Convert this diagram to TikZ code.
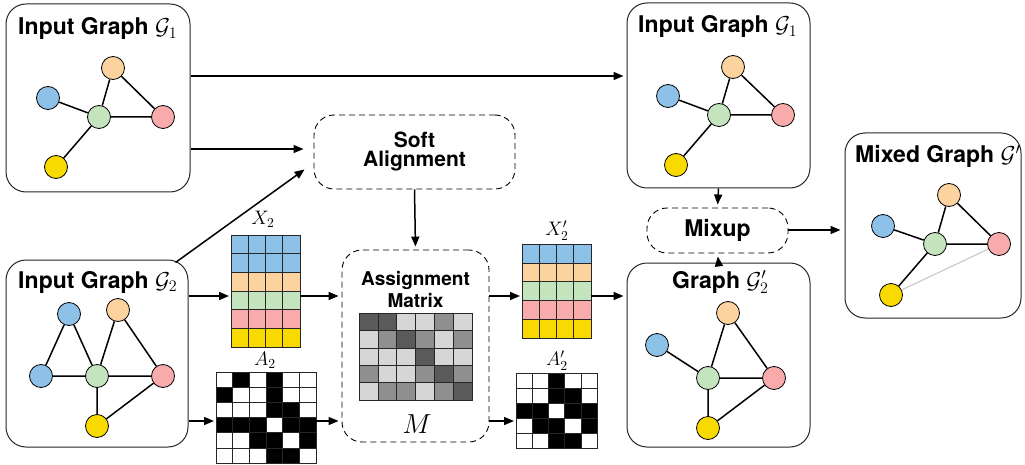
\RequirePackage{fix-cm}
\documentclass[tikz,border=0pt]{standalone}
\usepackage{fontspec}
\newfontfamily\hv{TeX Gyre Heros}
\usetikzlibrary{arrows.meta,calc}
\definecolor{cb}{HTML}{8EC1E8}
\definecolor{co}{HTML}{FCD39E}
\definecolor{cg}{HTML}{C4E4BE}
\definecolor{cp}{HTML}{F9AAAA}
\definecolor{cy}{HTML}{F8DA00}
\definecolor{gr0}{HTML}{D6D6D6}
\definecolor{gr1}{HTML}{8F8F8F}
\definecolor{gr2}{HTML}{5A5A5A}
\colorlet{bw0}{white}
\colorlet{bw1}{black}
\tikzset{
 gbox/.style={draw=black!85, rounded corners=20pt, line width=1pt, inner sep=0pt},
 dbox/.style={draw, dash pattern=on 6pt off 4pt, rounded corners=20pt, line width=0.9pt, inner sep=0pt},
 vtx/.style={circle, draw, line width=0.8pt, minimum size=23pt, inner sep=0pt},
 ed/.style={line width=1.5pt},
 arr/.style={line width=1.5pt, -{Triangle[length=10pt,width=8pt]}},
 ttl/.style={font=\hv\bfseries\fontsize{23}{25}\selectfont, inner sep=0pt, anchor=base west},
 lbl/.style={font=\fontsize{17}{19}\selectfont, inner sep=0pt, scale=1.15},
 cell/.style={draw=black!85, line width=0.6pt},
 hole/.style={inner sep=0pt, outer sep=0pt},
}
\begin{document}
\begin{tikzpicture}[x=1pt,y=-1pt]
\useasboundingbox (0,0) rectangle (1025,465);

% ---------- boxes ----------
\node[gbox, minimum width=184pt, minimum height=188pt] (g1) at (98,98) {};
\node[gbox, minimum width=182pt, minimum height=187pt] (g2) at (97,353.5) {};
\node[gbox, minimum width=183pt, minimum height=185pt] (g1r) at (718.5,95.5) {};
\node[gbox, minimum width=183pt, minimum height=184pt] (g2r) at (718.5,355) {};
\node[gbox, minimum width=176pt, minimum height=185pt] (mg) at (933,225.5) {};

\node[dbox, minimum width=201pt, minimum height=74pt, align=center,
      font=\hv\bfseries\fontsize{21}{19}\selectfont] (sa) at (414.5,152) {Soft\\Alignment};
\node[dbox, minimum width=147pt, minimum height=192pt] (am) at (415.5,346) {};
\node[dbox, minimum width=141pt, minimum height=45pt,
      font=\hv\bfseries\fontsize{23}{25}\selectfont] (mix) at (717.5,230.5) {Mixup};

% ---------- titles ----------
\node[ttl] (t1) at (18,35) {Input Graph $\mathcal{G}_1$};
\node[ttl] (t2) at (18,288) {Input Graph $\mathcal{G}_2$};
\node[ttl] (t3) at (638,33) {Input Graph $\mathcal{G}_1$};
\node[ttl] (t4) at (672,288) {Graph $\mathcal{G}_2'$};
\node[ttl] (t5) at (855,163) {Mixed Graph $\mathcal{G}'$};
\node[align=center, inner sep=0pt, font=\hv\bfseries\fontsize{19}{22}\selectfont] (amt) at (415.5,290) {Assignment\\Matrix};
\node[inner sep=0pt, font=\fontsize{25}{27}\selectfont, scale=1.1] (mm) at (417,424) {$M$};

% ---------- graph G1 (left) ----------
\node[vtx, fill=co] (a1o) at (113,68) {};
\node[vtx, fill=cb] (a1b) at (48,98) {};
\node[vtx, fill=cg] (a1g) at (99,117) {};
\node[vtx, fill=cp] (a1p) at (163,117) {};
\node[vtx, fill=cy] (a1y) at (56,167) {};
\draw[ed] (a1b)--(a1g) (a1o)--(a1g) (a1o)--(a1p) (a1g)--(a1p) (a1g)--(a1y);

% ---------- graph G2 ----------
\node[vtx, fill=cb] (a2b1) at (69,314) {};
\node[vtx, fill=co] (a2o) at (118,310) {};
\node[vtx, fill=cb] (a2b2) at (41,376) {};
\node[vtx, fill=cg] (a2g) at (97,376) {};
\node[vtx, fill=cp] (a2p) at (163,376) {};
\node[vtx, fill=cy] (a2y) at (97,426) {};
\draw[ed] (a2b1)--(a2b2) (a2b1)--(a2g) (a2b2)--(a2g) (a2o)--(a2g) (a2o)--(a2p)
          (a2g)--(a2p) (a2g)--(a2y) (a2p)--(a2y);

% ---------- graph G1 (right) ----------
\node[vtx, fill=co] (a3o) at (733,67) {};
\node[vtx, fill=cb] (a3b) at (668,96) {};
\node[vtx, fill=cg] (a3g) at (719,115) {};
\node[vtx, fill=cp] (a3p) at (783,115) {};
\node[vtx, fill=cy] (a3y) at (676,165) {};
\draw[ed] (a3b)--(a3g) (a3o)--(a3g) (a3o)--(a3p) (a3g)--(a3p) (a3g)--(a3y);

% ---------- graph G2' ----------
\node[vtx, fill=co] (a4o) at (728,313) {};
\node[vtx, fill=cb] (a4b) at (657,345) {};
\node[vtx, fill=cg] (a4g) at (708,378) {};
\node[vtx, fill=cp] (a4p) at (774,378) {};
\node[vtx, fill=cy] (a4y) at (708,428) {};
\draw[ed] (a4b)--(a4g) (a4o)--(a4g) (a4o)--(a4p) (a4g)--(a4p) (a4g)--(a4y) (a4p)--(a4y);

% ---------- mixed graph ----------
\node[vtx, fill=co] (a5o) at (949,195) {};
\node[vtx, fill=cb] (a5b) at (883,226) {};
\node[vtx, fill=cg] (a5g) at (935,244) {};
\node[vtx, fill=cp] (a5p) at (999,244) {};
\node[vtx, fill=cy] (a5y) at (891,295) {};
\draw[ed] (a5b)--(a5g) (a5o)--(a5g) (a5o)--(a5p) (a5g)--(a5p) (a5g)--(a5y);
\draw[line width=1.2pt, black!20] (a5y)--(a5p);

% ---------- X2 ----------
\node[hole, minimum width=69pt, minimum height=112pt] (x2) at (265.5,291) {};
\foreach \c [count=\r from 0] in {cb,cb,co,cg,cp,cy} {
  \foreach \k in {0,...,3} {
    \filldraw[cell, fill=\c] ({231+\k*17.25},{235+\r*18.667}) rectangle ++(17.25,18.667);
  }
}
\node[lbl] (x2l) at (263,219) {$X_2$};

% ---------- X2' ----------
\node[hole, minimum width=69pt, minimum height=94pt] (x2p) at (556.5,291) {};
\foreach \c [count=\r from 0] in {cb,co,cg,cp,cy} {
  \foreach \k in {0,...,3} {
    \filldraw[cell, fill=\c] ({522+\k*17.25},{244+\r*18.8}) rectangle ++(17.25,18.8);
  }
}
\node[lbl] (x2pl) at (557,231) {$X_2'$};

% ---------- A2 ----------
\node[hole, minimum width=100pt, minimum height=91pt] (a2m) at (266,417.5) {};
\foreach \row [count=\r from 0] in {{0,1,0,1,0,0},{1,0,0,1,0,0},{0,0,0,1,1,0},{1,1,1,0,1,1},{0,0,1,1,0,1},{0,0,0,1,1,0}} {
  \foreach \v [count=\k from 0] in \row {
    \filldraw[cell, fill=bw\v] ({216+\k*16.667},{372+\r*15.167}) rectangle ++(16.667,15.167);
  }
}
\node[lbl] (a2l) at (265,360) {$A_2$};

% ---------- A2' ----------
\node[hole, minimum width=81pt, minimum height=75pt] (a2p) at (556.5,410.5) {};
\foreach \row [count=\r from 0] in {{0,0,1,0,0},{0,0,1,1,0},{1,1,0,1,1},{0,1,1,0,1},{0,0,1,1,0}} {
  \foreach \v [count=\k from 0] in \row {
    \filldraw[cell, fill=bw\v] ({516+\k*16.2},{373+\r*15}) rectangle ++(16.2,15);
  }
}
\node[lbl] (a2pl) at (557,361) {$A_2'$};

% ---------- M ----------
\foreach \row [count=\r from 0] in {{2,2,0,0,1,0},{0,1,2,1,0,1},{0,0,0,2,0,0},{1,0,0,1,2,1},{0,1,1,0,1,2}} {
  \foreach \v [count=\k from 0] in \row {
    \filldraw[cell, fill=gr\v] ({359+\k*18.83},{313+\r*17.4}) rectangle ++(18.83,17.4);
  }
}

% ---------- arrows ----------
\coordinate (ya) at (0,76);
\coordinate (yb) at (0,149);
\coordinate (yc) at (0,296);
\coordinate (yd) at (0,421);
\coordinate (ye) at (0,230);
\draw[arr, shorten >=3pt] (g1.east |- ya) -- (g1r.west |- ya);
\draw[arr, shorten >=10pt] (g1.east |- yb) -- (sa.west |- yb);
\draw[arr] ($(g2.north east)+(-13,3)$) -- ($(sa.south west)+(-9,-20)$);
\draw[arr, shorten >=2pt] (g2.east |- yc) -- (x2.west |- yc);
\draw[arr, shorten >=2pt] (g2.east |- yd) -- (a2m.west |- yd);
\draw[arr, shorten >=3pt] (x2.east |- yc) -- (am.west |- yc);
\draw[arr, shorten >=3pt] (a2m.east |- yd) -- (am.west |- yd);
\draw[arr, shorten >=3pt] (sa.south) -- (am.north);
\draw[arr, shorten >=2pt] (am.east |- yc) -- (x2p.west |- yc);
\draw[arr, shorten >=2pt] (am.east |- yd) -- (a2p.west |- yd);
\draw[arr, shorten >=3pt] (x2p.east |- yc) -- (g2r.west |- yc);
\draw[arr, shorten >=3pt] (g1r.south) -- (mix.north);
\draw[arr, shorten >=3pt] (g2r.north) -- (mix.south);
\draw[arr, shorten >=4pt] (mix.east |- ye) -- (mg.west |- ye);
\end{tikzpicture}
\end{document}
